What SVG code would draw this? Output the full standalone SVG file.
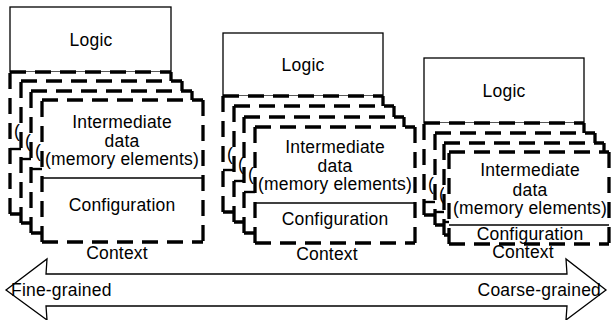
<svg xmlns="http://www.w3.org/2000/svg" width="611" height="320" viewBox="0 0 611 320">
  <style>
    .bg { fill: #fff; }
    .box { fill: #fff; stroke: #000; stroke-width: 1.3; }
    .dash { fill: none; stroke: #000; stroke-width: 3.3; stroke-dasharray: 16 9; }
    .div { fill: none; stroke: #000; stroke-width: 1.3; }
    .stub { fill: none; stroke: #000; stroke-width: 2.4; }
    .ctx { fill: #fff; }
    text { font-family: "Liberation Sans", Arial, Helvetica, sans-serif; font-size: 17.5px; fill: #000; letter-spacing: 0.2px; }
    .c { text-anchor: middle; }
    .e { text-anchor: end; }
  </style>
  <rect class="bg" x="0" y="0" width="611" height="320"/>

  <!-- Fine-grained column -->
  <g id="fine">
    <g id="fine-logic">
      <rect class="box" x="10" y="7" width="161" height="65"/>
      <text class="c" x="91" y="46">Logic</text>
    </g>
    <g id="fine-ctx1">
      <rect class="ctx" x="10" y="72" width="161" height="142"/>
      <path class="dash" d="M10,214 V72 M10,72 H171 M171,72 V214 M10,214 H171"/>
      <text x="14" y="137">(</text>
      <path class="stub" d="M10,149 H21"/>
    </g>
    <g id="fine-ctx2">
      <rect class="ctx" x="21" y="81" width="161" height="142"/>
      <path class="dash" d="M21,223 V81 M21,81 H182 M182,81 V223 M21,223 H182"/>
      <text x="25" y="147">(</text>
      <path class="stub" d="M21,159 H31"/>
    </g>
    <g id="fine-ctx3">
      <rect class="ctx" x="31" y="91" width="161" height="142"/>
      <path class="dash" d="M31,233 V91 M31,91 H192 M192,91 V233 M31,233 H192"/>
      <text x="35" y="157">(</text>
      <path class="stub" d="M31,169 H42"/>
    </g>
    <g id="fine-ctx4">
      <rect class="ctx" x="42" y="100" width="161" height="142"/>
      <path class="dash" d="M42,242 V100 M42,100 H203 M203,100 V242 M42,242 H203"/>
      <text class="c" x="122" y="128">Intermediate</text>
      <text class="c" x="122" y="147">data</text>
      <text class="c" x="122" y="165">(memory elements)</text>
      <path class="div" d="M42,178 H203"/>
      <text class="c" x="122" y="211">Configuration</text>
    </g>
    <text class="c" x="117" y="259">Context</text>
  </g>

  <!-- Middle column -->
  <g id="mid">
    <g id="mid-logic">
      <rect class="box" x="223" y="33" width="160" height="63"/>
      <text class="c" x="303" y="71">Logic</text>
    </g>
    <g id="mid-ctx1">
      <rect class="ctx" x="223" y="96" width="160" height="116"/>
      <path class="dash" d="M223,212 V96 M223,96 H383 M383,96 V212 M223,212 H383"/>
      <text x="227" y="160">(</text>
      <path class="stub" d="M223,170 H234"/>
    </g>
    <g id="mid-ctx2">
      <rect class="ctx" x="234" y="106" width="160" height="116"/>
      <path class="dash" d="M234,222 V106 M234,106 H394 M394,106 V222 M234,222 H394"/>
      <text x="238" y="170">(</text>
      <path class="stub" d="M234,181 H244"/>
    </g>
    <g id="mid-ctx3">
      <rect class="ctx" x="244" y="117" width="160" height="116"/>
      <path class="dash" d="M244,233 V117 M244,117 H404 M404,117 V233 M244,233 H404"/>
      <text x="248" y="180">(</text>
      <path class="stub" d="M244,192 H255"/>
    </g>
    <g id="mid-ctx4">
      <rect class="ctx" x="255" y="127" width="160" height="116"/>
      <path class="dash" d="M255,243 V127 M255,127 H415 M415,127 V243 M255,243 H415"/>
      <text class="c" x="335" y="153">Intermediate</text>
      <text class="c" x="335" y="172">data</text>
      <text class="c" x="335" y="190">(memory elements)</text>
      <path class="div" d="M255,203 H415"/>
      <text class="c" x="335" y="225">Configuration</text>
    </g>
    <text class="c" x="327" y="260">Context</text>
  </g>

  <!-- Coarse-grained column -->
  <g id="coarse">
    <g id="coarse-logic">
      <rect class="box" x="424" y="58" width="160" height="65"/>
      <text class="c" x="504" y="97">Logic</text>
    </g>
    <g id="coarse-ctx1">
      <rect class="ctx" x="424" y="123" width="160" height="92"/>
      <path class="dash" d="M424,215 V123 M424,123 H584 M584,123 V215 M424,215 H584"/>
      <text x="428" y="190">(</text>
      <path class="stub" d="M424,202 H435"/>
    </g>
    <g id="coarse-ctx2">
      <rect class="ctx" x="435" y="133" width="160" height="92"/>
      <path class="dash" d="M435,225 V133 M435,133 H595 M595,133 V225 M435,225 H595"/>
      <text x="439" y="200">(</text>
      <path class="stub" d="M435,212 H444"/>
    </g>
    <g id="coarse-ctx3">
      <rect class="ctx" x="444" y="143" width="160" height="92"/>
      <path class="dash" d="M444,235 V143 M444,143 H604 M604,143 V235 M444,235 H604"/>
      <path class="stub" d="M444,222 H449"/>
    </g>
    <g id="coarse-ctx4">
      <rect class="ctx" x="449" y="152" width="160" height="92"/>
      <path class="dash" d="M449,244 V152 M449,152 H609 M609,152 V244 M449,244 H609"/>
      <text class="c" x="530" y="176">Intermediate</text>
      <text class="c" x="530" y="196">data</text>
      <text class="c" x="530" y="214">(memory elements)</text>
      <path class="div" d="M449,225 H609"/>
      <text class="c" x="530" y="240">Configuration</text>
    </g>
    <text class="c" x="523" y="258">Context</text>
  </g>

  <!-- Granularity scale arrow -->
  <g id="connectors">
    <polygon class="box" points="6,290 47,259 46,274 567,274 566,259 606,290 566,320 567,306 46,306 47,320"/>
    <text x="11" y="296">Fine-grained</text>
    <text class="e" x="601" y="296">Coarse-grained</text>
  </g>
</svg>
